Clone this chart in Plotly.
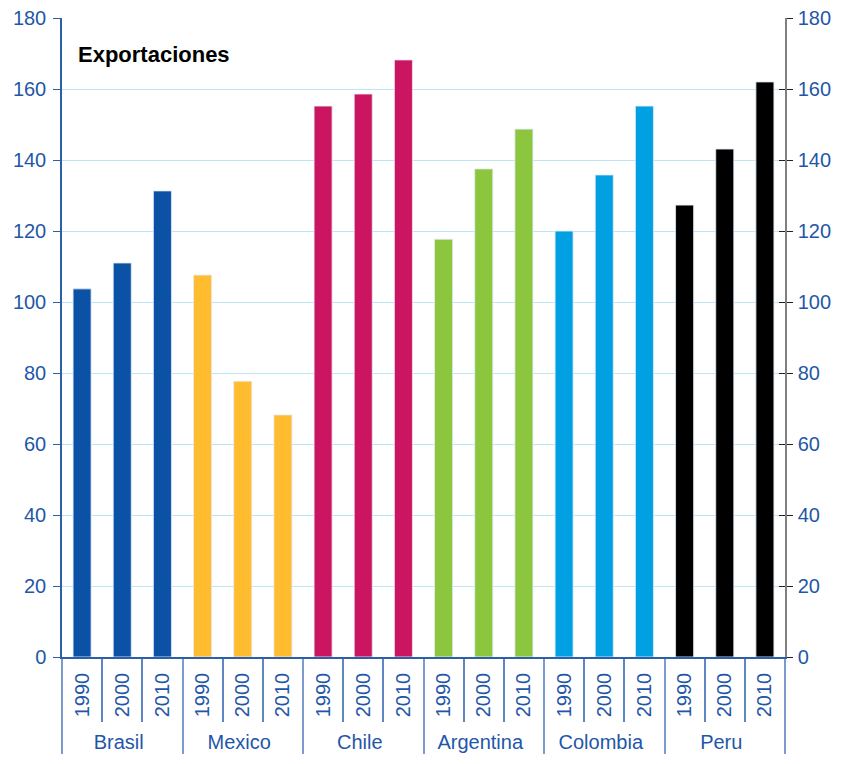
import plotly.graph_objects as go

countries = ["Brasil", "Mexico", "Chile", "Argentina", "Colombia", "Peru"]
years = ["1990", "2000", "2010"]
values = {
    "Brasil": [103.7, 111.0, 131.3],
    "Mexico": [107.6, 77.7, 68.2],
    "Chile": [155.2, 158.6, 168.2],
    "Argentina": [117.7, 137.5, 148.7],
    "Colombia": [120.0, 135.8, 155.2],
    "Peru": [127.3, 143.1, 162.0],
}
colors = {
    "Brasil": "#0B51A5",
    "Mexico": "#FFBC2E",
    "Chile": "#CC1560",
    "Argentina": "#8CC63F",
    "Colombia": "#00A0E3",
    "Peru": "#000000",
}
y_ticks = [0, 20, 40, 60, 80, 100, 120, 140, 160, 180]
title_text = "Exportaciones"

xg, xy, yv, cols = [], [], [], []
for c in countries:
    for i, yr in enumerate(years):
        xg.append(c)
        xy.append(yr)
        yv.append(values[c][i])
        cols.append(colors[c])

fig = go.Figure()
fig.add_trace(go.Bar(x=[xg, xy], y=yv, marker=dict(color=cols, line=dict(width=0)),
                     width=0.45, showlegend=False, hoverinfo="skip"))
for ax in ["y2", "y3"]:
    fig.add_trace(go.Bar(x=[xg, xy], y=yv, marker=dict(color="rgba(0,0,0,0)"),
                         width=0.45, yaxis=ax, showlegend=False, hoverinfo="skip"))

tickfont = dict(family="Liberation Sans, Arial", size=20, color="#1F57A8")
fig.update_layout(
    width=833, height=748,
    margin=dict(l=54, r=56, t=10, b=99),
    plot_bgcolor="white", paper_bgcolor="white",
    barmode="overlay",
    font=dict(family="Liberation Sans, Arial", size=20, color="#1F57A8"),
    xaxis=dict(
        type="multicategory", automargin=False,
        tickangle=-90,
        tickfont=tickfont, ticklabelstandoff=6,
        showline=True, linecolor="#2B5FAA", linewidth=1.5,
        ticks="outside", ticklen=63, tickcolor="#5E86C2", tickwidth=1.5,
        showdividers=True, dividercolor="#7A9BCC", dividerwidth=1.5,
        showgrid=False,
    ),
    yaxis=dict(
        range=[0, 180], tickvals=y_ticks, tickfont=tickfont, automargin=False,
        ticklabeloverflow="allow", ticklabelstandoff=3,
        showline=True, linecolor="#2B5FAA", linewidth=1.5,
        ticks="outside", ticklen=7, tickcolor="#2B5FAA",
        showgrid=True, gridcolor="#BDE5F5", gridwidth=1,
        zeroline=False,
    ),
    yaxis2=dict(
        range=[0, 180], tickvals=y_ticks, tickfont=tickfont, automargin=False,
        ticklabeloverflow="allow", ticklabelstandoff=1,
        overlaying="y", side="right",
        showline=True, linecolor="#808080", linewidth=1.5,
        ticks="outside", ticklen=6, tickcolor="#222222",
        showgrid=False, zeroline=False,
    ),
    yaxis3=dict(
        range=[0, 180], tickvals=y_ticks, showticklabels=False, automargin=False,
        overlaying="y", side="right",
        showline=False,
        ticks="inside", ticklen=6, tickcolor="#222222",
        showgrid=False, zeroline=False,
    ),
    annotations=[dict(
        text="<b>" + title_text + "</b>", xref="paper", yref="paper",
        x=0.02, y=0.943, xanchor="left", yanchor="middle", showarrow=False,
        font=dict(family="Liberation Sans, Arial", size=22, color="black"),
    )],
)

fig.write_html("out.html",
               post_script="document.documentElement.style.overflow='hidden';"
                           "document.body.style.overflow='hidden';")
